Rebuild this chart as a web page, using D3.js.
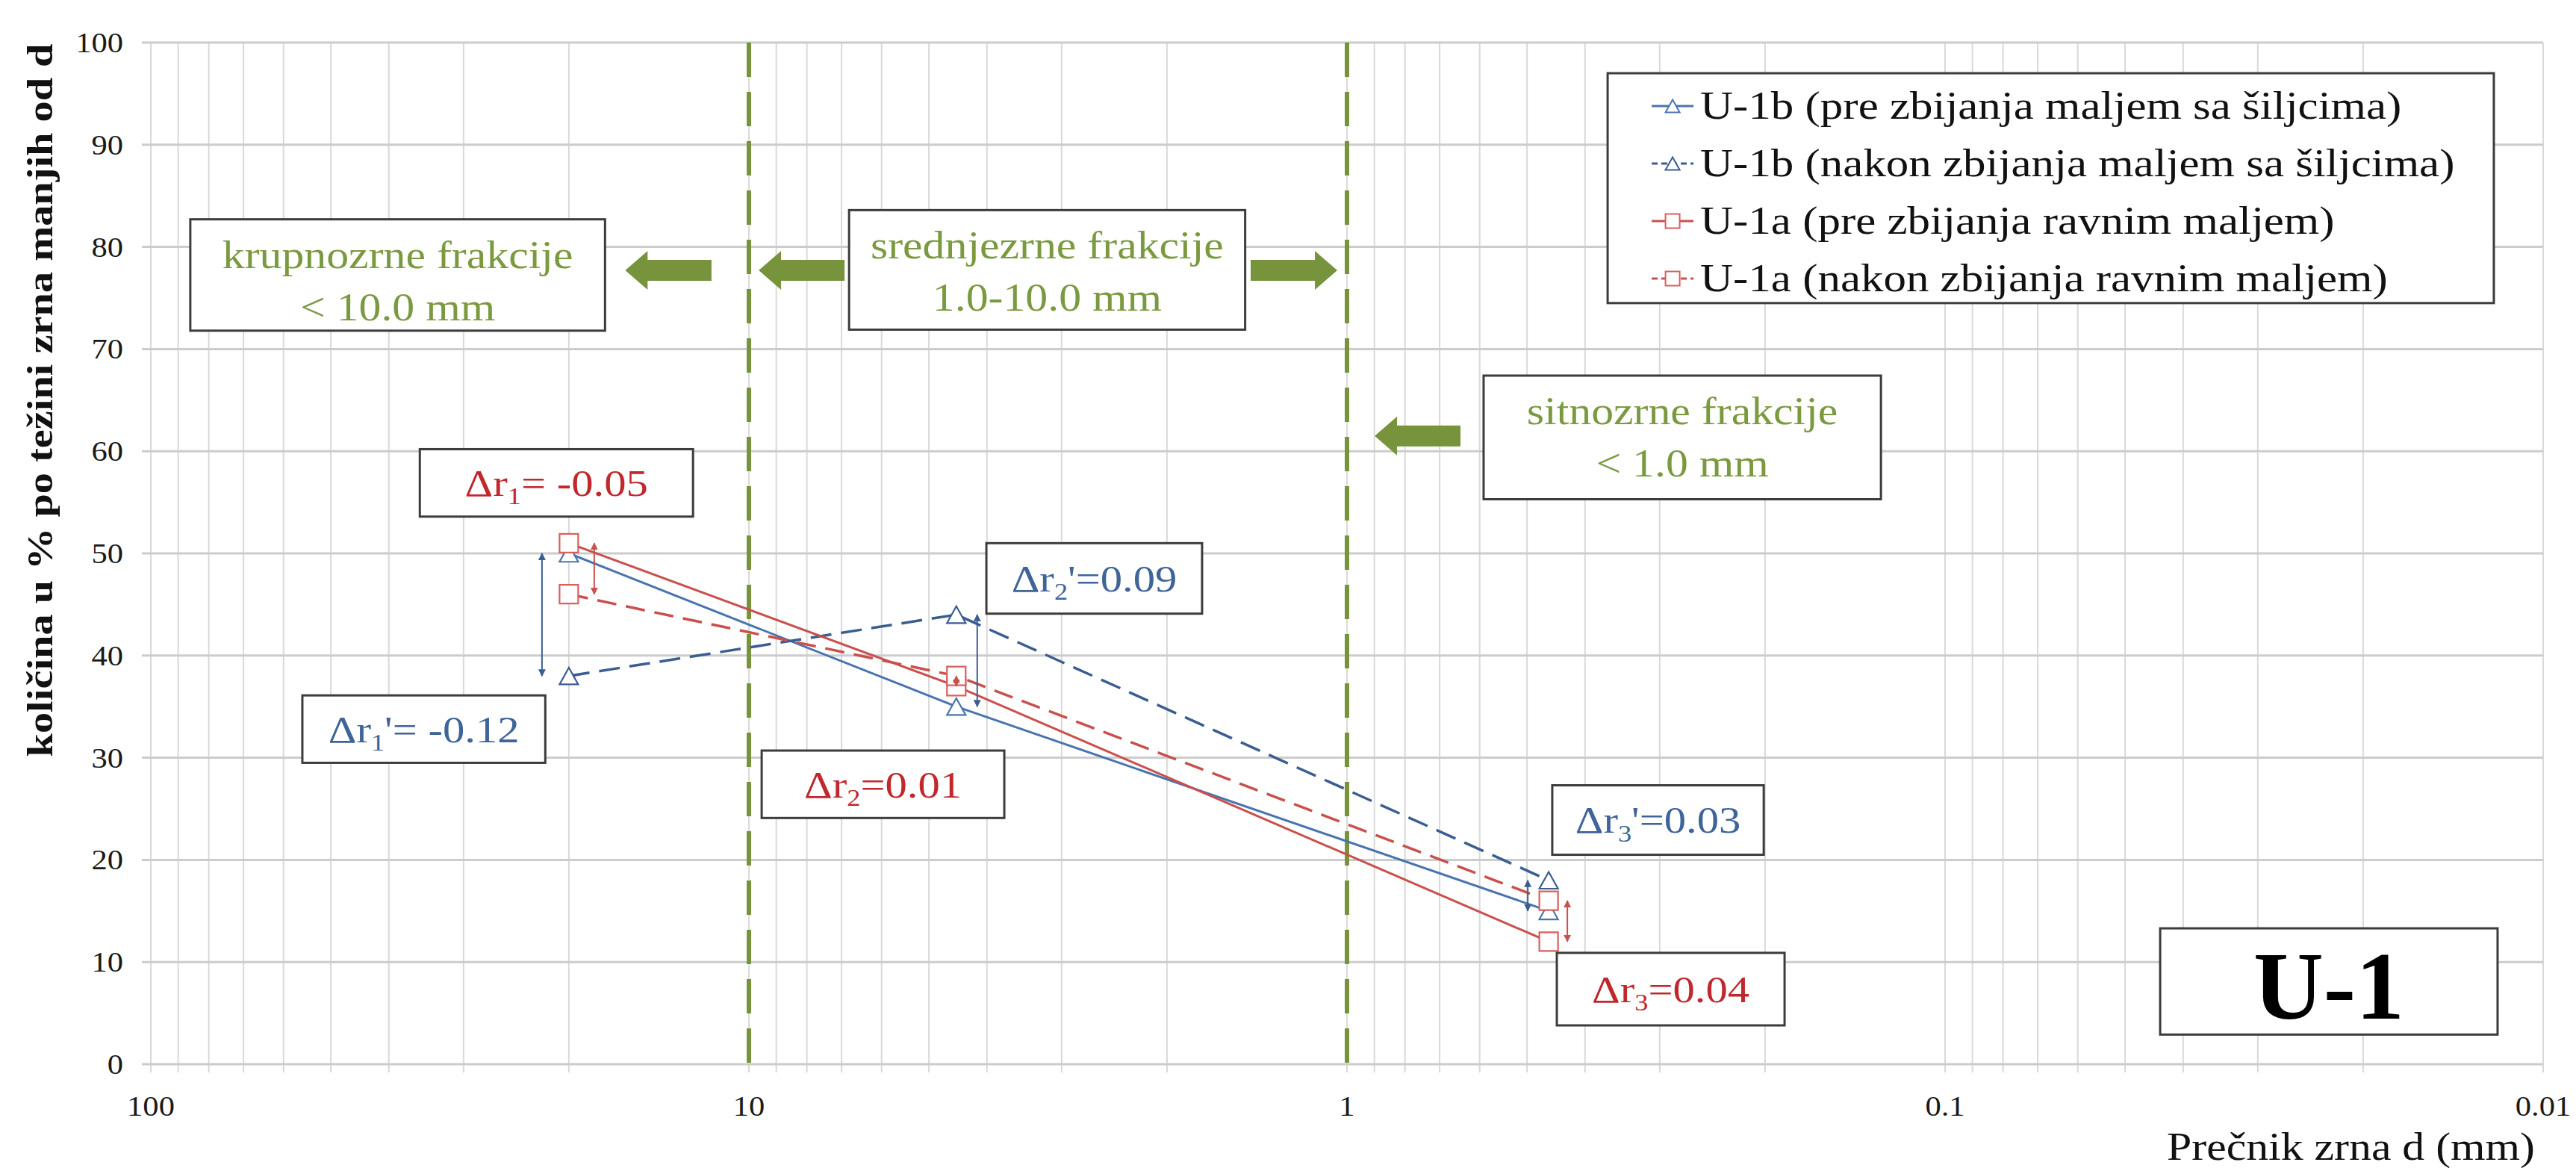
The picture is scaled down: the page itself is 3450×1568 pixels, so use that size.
<!DOCTYPE html>
<html>
<head>
<meta charset="utf-8">
<script src="https://cdn.jsdelivr.net/npm/d3@7"></script>
<style>
  html, body { margin: 0; padding: 0; background: #fff; }
  svg { display: block; font-family: "Liberation Serif", "Times New Roman", serif; }
</style>
</head>
<body>
<svg id="chart" width="3450" height="1568"></svg>
<script>
// grain sizes (mm) of the three measured sieves
const GRAIN_SIZES = [20, 4.5, 0.46];

const SERIES_NAMES = [
  "U-1b (pre zbijanja maljem sa šiljcima)",
  "U-1b (nakon zbijanja maljem sa šiljcima)",
  "U-1a (pre zbijanja ravnim maljem)",
  "U-1a (nakon zbijanja ravnim maljem)",
];
const U1B_PRE = [50, 35, 15];
const U1B_NAKON = [38, 44, 18];
const U1A_PRE = [51, 37, 12];
const U1A_NAKON = [46, 38, 16];

const Y_TICKS = [0, 10, 20, 30, 40, 50, 60, 70, 80, 90, 100];
const X_TICKS = [100, 10, 1, 0.1, 0.01];
const X_TICK_LABELS = ["100", "10", "1", "0.1", "0.01"];
const BOUNDARIES = [10, 1];

const Y_TITLE = "količina u % po težini zrna manjih od d";
const X_TITLE = "Prečnik zrna d (mm)";
const PANEL_LABEL = "U-1";

// fraction labels: text, box corners in data units (mm, %)
const FRACTION_TEXT = [
  ["krupnozrne frakcije", "< 10.0 mm"],
  ["srednjezrne frakcije", "1.0-10.0 mm"],
  ["sitnozrne frakcije", "< 1.0 mm"],
];
const FRACTION_BOX_X = [[85.9, 17.4], [6.8, 1.48], [0.591, 0.128]];
const FRACTION_BOX_Y = [[82.7, 71.8], [83.6, 71.9], [67.4, 55.3]];
// block arrows: tail -> tip (mm), height (%)
const FRACTION_ARROWS = [
  { from: 11.55, to: 16.1, y: 77.7 },
  { from: 6.92, to: 9.63, y: 77.7 },
  { from: 1.449, to: 1.038, y: 77.7 },
  { from: 0.646, to: 0.899, y: 61.5 },
];

// delta annotations
const DELTA_SUB = ["1", "1", "2", "2", "3", "3"];
const DELTA_REST = ["= -0.05", "'= -0.12", "=0.01", "'=0.09", "'=0.03", "=0.04"];
const DELTA_SERIES = ["a", "b", "a", "b", "b", "a"];
const DELTA_INDEX = [0, 0, 1, 1, 2, 2];
const DELTA_BOX_X = [[35.5, 12.4], [55.8, 21.9], [9.52, 3.741], [4.008, 1.747], [0.4537, 0.201], [0.4458, 0.1855]];
const DELTA_BOX_Y = [[60.2, 53.6], [36.1, 29.5], [30.7, 24.1], [51.0, 44.1], [27.3, 20.5], [10.9, 3.8]];
const DELTA_ARROW_DX = [34, -36, 0, 28, -28, 25];

const BLUE = "#4a74b0";
const BLUE_DARK = "#3b5e92";
const RED = "#c9504c";
const RED_TEXT = "#c0282d";
const BLUE_TEXT = "#3f6498";
const GREEN = "#77933c";
const GREEN_TEXT = "#7b9a40";
const SX = 1.15;

const series = [
  { name: SERIES_NAMES[0], values: U1B_PRE, color: BLUE, dash: null, marker: "triangle" },
  { name: SERIES_NAMES[1], values: U1B_NAKON, color: BLUE_DARK, dash: "28,13", marker: "triangle" },
  { name: SERIES_NAMES[2], values: U1A_PRE, color: RED, dash: null, marker: "square" },
  { name: SERIES_NAMES[3], values: U1A_NAKON, color: RED, dash: "26,13", marker: "square" },
];
const pairs = { b: [series[0], series[1]], a: [series[2], series[3]] };

const svg = d3.select("#chart");
const x = d3.scaleLog().domain([100, 0.01]).range([202, 3406]);
const y = d3.scaleLinear().domain([0, 100]).range([1425, 57]);

function stretchText(g, txt, px, py, size, anchor, fill, weight) {
  return g.append("text")
    .attr("transform", `translate(${px},${py}) scale(${SX},1)`)
    .attr("text-anchor", anchor)
    .attr("font-size", size)
    .attr("font-weight", weight || "normal")
    .attr("fill", fill)
    .text(txt);
}

function markerPath(type, s) {
  if (type === "square") return `M${-s / 2},${-s / 2}h${s}v${s}h${-s}Z`;
  const h = s * 0.9;
  return `M0,${-h / 2}L${s / 2},${h / 2}L${-s / 2},${h / 2}Z`;
}

// grid
const minorTicks = [];
for (let e = -2; e < 2; e++) {
  for (let m = 1; m < 10; m++) minorTicks.push(m * Math.pow(10, e));
}
minorTicks.push(100);
const grid = svg.append("g");
grid.selectAll("line.v").data(minorTicks).join("line")
  .attr("x1", (d) => x(d)).attr("x2", (d) => x(d))
  .attr("y1", y(100)).attr("y2", y(0) + 11)
  .attr("stroke", "#d9d9d9").attr("stroke-width", 2);
grid.selectAll("line.h").data(Y_TICKS).join("line")
  .attr("x1", x(100) - 12).attr("x2", x(0.01))
  .attr("y1", (d) => y(d)).attr("y2", (d) => y(d))
  .attr("stroke", "#cccccc").attr("stroke-width", 3);

// tick labels
const ticks = svg.append("g");
Y_TICKS.forEach((t) => stretchText(ticks, String(t), 165, y(t) + 13, 37, "end", "#1a1a1a"));
X_TICKS.forEach((t, i) => stretchText(ticks, X_TICK_LABELS[i], x(t), 1494, 37, "middle", "#1a1a1a"));

// axis titles
svg.append("text")
  .attr("transform", `translate(70,${(y(100) + 1015) / 2}) rotate(-90) scale(${SX},1)`)
  .attr("text-anchor", "middle").attr("font-size", 49).attr("font-weight", "bold").attr("fill", "#111")
  .text(Y_TITLE);
stretchText(svg, X_TITLE, 3395, 1553, 52, "end", "#111");

// fraction boundaries
svg.append("g").selectAll("line").data(BOUNDARIES).join("line")
  .attr("x1", (d) => x(d)).attr("x2", (d) => x(d))
  .attr("y1", y(100)).attr("y2", y(0))
  .attr("stroke", GREEN).attr("stroke-width", 6).attr("stroke-dasharray", "46,20");

// series lines + markers
const line = d3.line().x((d, i) => x(GRAIN_SIZES[i])).y((d) => y(d));
const plot = svg.append("g");
plot.selectAll("path.series").data(series).join("path")
  .attr("class", "series")
  .attr("fill", "none")
  .attr("stroke", (d) => d.color)
  .attr("stroke-width", (d) => (d.dash ? 3.5 : 3))
  .attr("stroke-dasharray", (d) => d.dash)
  .attr("d", (d) => line(d.values));
series.forEach((s) => {
  plot.selectAll(null).data(s.values).join("path")
    .attr("transform", (d, i) => `translate(${x(GRAIN_SIZES[i])},${y(d)})`)
    .attr("d", markerPath(s.marker, 25))
    .attr("fill", "#fff")
    .attr("stroke", s.color === RED ? "#d9605c" : s.color)
    .attr("stroke-width", 2.2);
});

// thin double arrows for deltas
const defs = svg.append("defs");
[["arrowRed", RED], ["arrowBlue", BLUE_DARK]].forEach(([id, c]) => {
  defs.append("marker").attr("id", id).attr("viewBox", "0 0 10 10")
    .attr("refX", 9).attr("refY", 5).attr("markerWidth", 10).attr("markerHeight", 12)
    .attr("markerUnits", "userSpaceOnUse").attr("orient", "auto-start-reverse")
    .append("path").attr("d", "M0,0L10,5L0,10Z").attr("fill", c);
});
DELTA_SUB.forEach((_, i) => {
  const [pre, post] = pairs[DELTA_SERIES[i]];
  const k = DELTA_INDEX[i];
  const id = DELTA_SERIES[i] === "a" ? "arrowRed" : "arrowBlue";
  const px = x(GRAIN_SIZES[k]) + DELTA_ARROW_DX[i];
  svg.append("line")
    .attr("x1", px).attr("x2", px)
    .attr("y1", y(pre.values[k])).attr("y2", y(post.values[k]))
    .attr("stroke", DELTA_SERIES[i] === "a" ? RED : BLUE_DARK).attr("stroke-width", 2)
    .attr("marker-start", `url(#${id})`).attr("marker-end", `url(#${id})`);
});

function box(g, xs, ys) {
  const x0 = x(xs[0]), x1 = x(xs[1]), y0 = y(ys[0]), y1 = y(ys[1]);
  g.append("rect").attr("x", x0).attr("y", y0).attr("width", x1 - x0).attr("height", y1 - y0)
    .attr("fill", "#fff").attr("stroke", "#3c3c3c").attr("stroke-width", 3);
  return { x0, x1, y0, y1, cx: (x0 + x1) / 2, cy: (y0 + y1) / 2 };
}

// delta labels
const notes = svg.append("g");
DELTA_SUB.forEach((sub, i) => {
  const b = box(notes, DELTA_BOX_X[i], DELTA_BOX_Y[i]);
  const col = DELTA_SERIES[i] === "a" ? RED_TEXT : BLUE_TEXT;
  const fs = 51;
  const t = notes.append("text")
    .attr("transform", `translate(${b.cx},${b.cy + fs * 0.34}) scale(${SX},1)`)
    .attr("text-anchor", "middle").attr("font-size", fs).attr("fill", col);
  t.append("tspan").text("Δr");
  t.append("tspan").attr("font-size", fs * 0.62).attr("dy", fs * 0.22).text(sub);
  t.append("tspan").attr("dy", -fs * 0.22).text(DELTA_REST[i]);
});

// fraction boxes and block arrows
FRACTION_TEXT.forEach((lines, i) => {
  const b = box(notes, FRACTION_BOX_X[i], FRACTION_BOX_Y[i]);
  lines.forEach((ln, j) => stretchText(notes, ln, b.cx, b.y0 + 65 + j * 70, 52, "middle", GREEN_TEXT));
});
notes.selectAll("path.block").data(FRACTION_ARROWS).join("path")
  .attr("class", "block")
  .attr("fill", GREEN)
  .attr("d", (d) => {
    const x0 = x(d.from), x1 = x(d.to), cy = y(d.y);
    const s = Math.sign(x1 - x0), hx = x1 - s * 30;
    return `M${x0},${cy - 14}L${hx},${cy - 14}L${hx},${cy - 26}L${x1},${cy}L${hx},${cy + 26}L${hx},${cy + 14}L${x0},${cy + 14}Z`;
  });

// panel label
const pb = box(notes, [0.04369, 0.011918], [13.3, 2.9]);
notes.append("text").attr("x", pb.cx).attr("y", 1364).attr("text-anchor", "middle")
  .attr("font-size", 130).attr("font-weight", "bold").attr("fill", "#000").text(PANEL_LABEL);

// legend
const legend = svg.append("g");
const lb = box(legend, [0.3666, 0.01209], [97, 74.5]);
series.forEach((s, i) => {
  const cy = lb.y0 + 44 + i * 77;
  legend.append("line").attr("x1", lb.x0 + 59).attr("x2", lb.x0 + 115)
    .attr("y1", cy).attr("y2", cy).attr("stroke", s.color).attr("stroke-width", 3)
    .attr("stroke-dasharray", s.dash ? "8,5" : null);
  legend.append("path").attr("transform", `translate(${lb.x0 + 87},${cy})`)
    .attr("d", markerPath(s.marker, 19)).attr("fill", "#fff")
    .attr("stroke", s.color === RED ? "#d9605c" : s.color).attr("stroke-width", 2);
  stretchText(legend, s.name, lb.x0 + 124, cy + 17, 53, "start", "#111");
});
</script>
</body>
</html>
